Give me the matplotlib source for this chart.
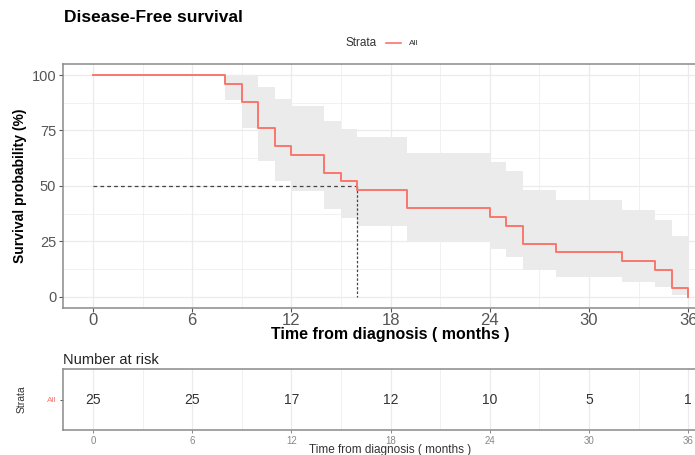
import matplotlib
matplotlib.use("Agg")
import matplotlib.pyplot as plt
from matplotlib.lines import Line2D

plt.rcParams["font.family"] = ["Liberation Sans", "DejaVu Sans"]

# Kaplan-Meier estimate (percent)
times = [0, 8, 9, 10, 11, 12, 14, 15, 16, 19, 24, 25, 26, 28, 32, 34, 35, 36]
surv = [100, 96, 88, 76, 68, 64, 56, 52, 48, 40, 36, 32, 24, 20, 16, 12, 4, 0]
# confidence band for each step up to t=35
upper = [100, 100, 100, 94.7, 89, 86, 79.3, 75.8, 72.2, 64.6, 60.7, 56.7, 48.2, 43.8, 39.3, 34.7, 27.3]
lower = [100, 88.6, 76.1, 61, 52, 47.7, 39.6, 35.7, 31.9, 24.8, 21.4, 18.1, 12, 9.1, 6.5, 4.2, 0.6]
median_time = 16

risk_times = [0, 6, 12, 18, 24, 30, 36]
risk_counts = [25, 25, 17, 12, 10, 5, 1]
strata = ["All"]

line_color = "#F8766D"
band_color = "#ebebeb"
border_color = "#8a8a8a"
grid_color = "#ebebeb"
tick_color = "#555555"

xlim = (-1.8, 37.8)

fig = plt.figure(figsize=(6.95, 4.55), dpi=100)
fig.patch.set_facecolor("white")

ax = fig.add_axes([0.0909, 0.3235, 0.942, 0.536])
ax.set_xlim(*xlim)
ax.set_ylim(-5, 105)

for v in range(3, 37, 6):
    ax.axvline(v, color=grid_color, lw=0.5, zorder=0)
for v in [12.5, 37.5, 62.5, 87.5]:
    ax.axhline(v, color=grid_color, lw=0.5, zorder=0)
ax.grid(True, color=grid_color, lw=0.9, zorder=0)
ax.set_axisbelow(True)

band_x = times
band_hi = upper + [upper[-1]]
band_lo = lower + [lower[-1]]
ax.fill_between(band_x, band_lo, band_hi, step="post", color=band_color, lw=0, zorder=1)
ax.step(times, surv, where="post", color=line_color, lw=1.4, zorder=3)

# median survival marker
ax.plot([0, median_time], [50, 50], color="#444444", lw=0.9, ls=(0, (3, 2.5)), zorder=2)
ax.plot([median_time, median_time], [50, 0], color="#444444", lw=0.9, ls=(0, (2, 1.5)), zorder=2)

ax.set_xticks(risk_times)
ax.set_yticks([0, 25, 50, 75, 100])
ax.tick_params(colors=tick_color, length=3, width=0.8, pad=2)
ax.tick_params(axis="x", labelsize=12, pad=1)
ax.tick_params(axis="y", labelsize=10.5)
for s in ax.spines.values():
    s.set_color(border_color)
    s.set_linewidth(1.1)
ax.set_xlabel("Time from diagnosis ( months )", fontsize=11.5, fontweight="bold", labelpad=-1)
ax.set_ylabel("Survival probability (%)", fontsize=10, fontweight="bold", labelpad=3)

fig.text(0.092, 0.962, "Disease-Free survival", fontsize=12.5, fontweight="bold", va="center")

# legend
fig.text(0.542, 0.905, "Strata", fontsize=8.5, color="#333333", va="center", ha="right")
fig.add_artist(Line2D([0.556, 0.577], [0.905, 0.905], color=line_color, lw=1.2, transform=fig.transFigure))
fig.text(0.588, 0.905, strata[0], fontsize=6, color="#333333", va="center")

# risk table
rax = fig.add_axes([0.0909, 0.055, 0.942, 0.1334])
rax.set_xlim(*xlim)
rax.set_ylim(0.5, 1.5)
for v in range(3, 37, 6):
    rax.axvline(v, color=grid_color, lw=0.5, zorder=0)
rax.grid(True, axis="x", color=grid_color, lw=0.9, zorder=0)
rax.set_axisbelow(True)
for t, n in zip(risk_times, risk_counts):
    rax.text(t, 1, str(n), ha="center", va="center", fontsize=10, color="#333333")
rax.set_xticks(risk_times)
rax.set_yticks([1])
rax.set_yticklabels(strata)
rax.tick_params(axis="x", colors="#888888", labelsize=7, length=2.5, width=0.7, pad=1.5)
rax.tick_params(axis="y", colors="#555555", labelsize=6, length=2.5, width=0.7, pad=2)
rax.get_yticklabels()[0].set_color(line_color)
for s in rax.spines.values():
    s.set_color(border_color)
    s.set_linewidth(1.1)
rax.set_xlabel("Time from diagnosis ( months )", fontsize=8.5, color="#333333", labelpad=-1)
rax.set_ylabel("Strata", fontsize=7.5, color="#333333", labelpad=15)
rax.set_title("Number at risk", fontsize=10.5, color="#222222", loc="left", pad=4)

fig.savefig("out.png", dpi=100)
